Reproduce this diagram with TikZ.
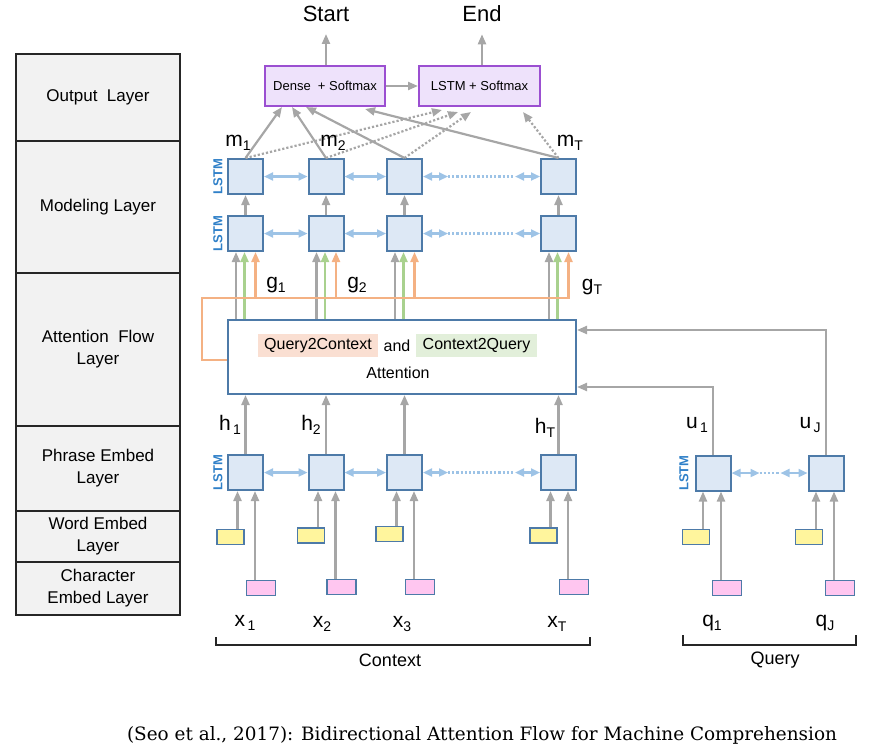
\documentclass[tikz,border=0pt]{standalone}
\usepackage{fontspec}
\setmainfont{Liberation Sans}
\newfontfamily\capfont{DejaVu Serif}
\usetikzlibrary{arrows.meta}
\definecolor{arrgray}{HTML}{A6A6A6}
\definecolor{boxfill}{HTML}{DDE8F5}
\definecolor{boxdraw}{HTML}{4D7AA8}
\definecolor{lblue}{HTML}{9DC3E6}
\definecolor{ylw}{HTML}{FFF59D}
\definecolor{pnk}{HTML}{FFC6F0}
\definecolor{purpfill}{HTML}{EEE2FB}
\definecolor{purpdraw}{HTML}{9B4FD1}
\definecolor{orng}{HTML}{F4B183}
\definecolor{grn}{HTML}{A9D18E}
\definecolor{peach}{HTML}{FADFD2}
\definecolor{lgreen}{HTML}{E2EFDA}
\definecolor{layerfill}{HTML}{F2F2F2}
\definecolor{lstmblue}{HTML}{2F80C8}
\newcommand{\setfsz}[1]{\fontsize{#1}{#1}\selectfont}
\newcommand{\sublab}[2]{{\setfsz{21}#1}{\setfsz{14}\raisebox{-4pt}{#2}}}
\begin{document}
\begin{tikzpicture}[x=1pt,y=-1pt,
  lstmbox/.style={draw=boxdraw, fill=boxfill, line width=2pt, minimum size=35pt, inner sep=0pt},
  ybox/.style={draw=boxdraw, fill=ylw, line width=1.8pt, minimum width=27pt, minimum height=15pt, inner sep=0pt},
  pbox/.style={draw=boxdraw, fill=pnk, line width=1.8pt, minimum width=29pt, minimum height=15pt, inner sep=0pt},
  purpbox/.style={draw=purpdraw, fill=purpfill, line width=2pt, minimum height=40pt, inner sep=0pt, font=\setfsz{13}},
  layer/.style={draw=black!85, fill=layerfill, line width=1.8pt, minimum width=164pt, inner sep=0pt, align=center, font=\fontsize{17}{22}\selectfont},
  tip/.style={-{Triangle[length=10pt,width=8pt]}},
  garrow/.style={draw=arrgray, line width=2.2pt, tip},
  gdot/.style={draw=arrgray, line width=2.2pt, dotted, tip},
  greenarrow/.style={draw=grn, line width=2.2pt, tip},
  orarrow/.style={draw=orng, line width=2.2pt, tip},
  barrow/.style={draw=lblue, line width=2.2pt, {Triangle[length=9pt,width=8pt]}-{Triangle[length=9pt,width=8pt]}},
  bdot/.style={draw=lblue, line width=2.2pt, dotted},
  lstmlab/.style={rotate=90, text=lstmblue, font=\bfseries\setfsz{13}, inner sep=0pt},
  lab/.style={inner sep=0pt},
  bracket/.style={draw=black!85, line width=1.6pt}
]
\useasboundingbox (0,0) rectangle (875,747);

% layer column
\node[layer, minimum height=87pt] (L1) at (98,97.5) {Output\ \ Layer};
\node[layer, minimum height=132pt] (L2) at (98,207) {Modeling Layer};
\node[layer, minimum height=153pt] (L3) at (98,349.5) {Attention\ \ Flow\\Layer};
\node[layer, minimum height=85pt] (L4) at (98,468.5) {Phrase Embed\\Layer};
\node[layer, minimum height=51pt] (L5) at (98,536.5) {Word Embed\\Layer};
\node[layer, minimum height=53pt] (L6) at (98,588.5) {Character\\Embed Layer};

% output layer
\node[purpbox, minimum width=120pt] (dense) at (325,86) {Dense\ \ + Softmax};
\node[purpbox, minimum width=121pt] (lsm) at (479.5,86) {LSTM + Softmax};
\node[lab, font=\setfsz{22}] (start) at (326,14) {Start};
\node[lab, font=\setfsz{22}] (end) at (482,14) {End};
\draw[garrow] (dense.north -| start) -- ([yshift=-12pt]start.south);
\draw[garrow] (lsm.north -| end) -- ([yshift=-12pt]end.south);
\draw[garrow] (dense) -- (lsm);

% attention box
\node[draw=boxdraw, fill=white, line width=2pt, minimum width=348pt, minimum height=74pt, inner sep=0pt] (att) at (402,357) {};
\node[fill=peach, minimum width=120pt, minimum height=23pt, inner sep=0pt, font=\setfsz{16}] (q2c) at (318,345.5) {Query2Context};
\node[lab, font=\setfsz{16}] (andt) at (397,346) {and};
\node[fill=lgreen, minimum width=121pt, minimum height=23pt, inner sep=0pt, font=\setfsz{16}] (c2q) at (476.5,345.5) {Context2Query};
\node[lab, font=\setfsz{16}] (attt) at (398,373) {Attention};

% context columns
\foreach \n/\cx/\yy/\py in {1/245.5/537/588, 2/326/535.5/587, 3/404.5/534/587, T/558.5/535.5/587} {
  \node[lstmbox] (mA\n) at (\cx,176.5) {};
  \node[lstmbox] (mB\n) at (\cx,233.5) {};
  \node[lstmbox] (ph\n) at (\cx,472.5) {};
  \node[ybox] (yw\n) at (\cx-15,\yy) {};
  \node[pbox] (pc\n) at (\cx+15.5,\py) {};
  \coordinate (ya\n) at ([xshift=7pt]yw\n.north);
  \coordinate (pa\n) at ([xshift=-6pt]pc\n.north);
  \draw[garrow] (ya\n) -- (ya\n |- ph\n.south);
  \draw[garrow] (pa\n) -- (pa\n |- ph\n.south);
  \draw[garrow] (ph\n.north) -- (ph\n.north |- att.south);
  \draw[garrow] (mB\n.north) -- (mA\n.south);
  \coordinate (gg\n) at ([xshift=-9.5pt]mB\n.south);
  \coordinate (gr\n) at ([xshift=-1pt]mB\n.south);
  \coordinate (og\n) at ([xshift=10pt]mB\n.south);
  \draw[garrow] (gg\n |- att.north) -- (gg\n);
  \draw[greenarrow] (gr\n |- att.north) -- (gr\n);
}

% orange feedback line
\coordinate (ocorner) at (202,298);
\draw[orarrow] ([yshift=-3pt]att.west) -| (ocorner) -- (ogT |- ocorner) -- (ogT);
\foreach \n in {1,2,3} { \draw[orarrow] (og\n |- ocorner) -- (og\n); }

% bidirectional links
\foreach \r in {mA,mB,ph} {
  \draw[barrow] (\r1) -- (\r2);
  \draw[barrow] (\r2) -- (\r3);
  \coordinate (\r dl) at ([xshift=25pt]\r3.east);
  \coordinate (\r dr) at ([xshift=-25pt]\r T.west);
  \draw[barrow] (\r3) -- (\r dl);
  \draw[bdot] (\r dl) -- (\r dr);
  \draw[barrow] (\r dr) -- (\r T);
}

% output connections
\draw[garrow] (mA1.north) -- ([xshift=-43pt]dense.south);
\draw[garrow] (mA2.north) -- ([xshift=-33pt]dense.south);
\draw[garrow] (mA3.north) -- ([xshift=-19pt]dense.south);
\draw[garrow] (mAT.north) -- ([xshift=40pt,yshift=-2pt]dense.south);
\draw[gdot] (mA1.north) -- ([xshift=-37.5pt,yshift=-3pt]lsm.south);
\draw[gdot] (mA2.north) -- ([xshift=-21.5pt,yshift=-5pt]lsm.south);
\draw[gdot] (mA3.north) -- ([xshift=-8.5pt,yshift=-5pt]lsm.south);
\draw[gdot] (mAT.north) -- ([xshift=43.5pt,yshift=-5pt]lsm.south);

% query columns
\foreach \n/\cx in {1/713, J/826} {
  \node[lstmbox] (qu\n) at (\cx,473) {};
  \node[ybox] (qy\n) at (\cx-17,537) {};
  \node[pbox] (qp\n) at (\cx+14,588) {};
  \coordinate (qya\n) at ([xshift=7pt]qy\n.north);
  \coordinate (qpa\n) at ([xshift=-6pt]qp\n.north);
  \draw[garrow] (qya\n) -- (qya\n |- qu\n.south);
  \draw[garrow] (qpa\n) -- (qpa\n |- qu\n.south);
}
\coordinate (qdl) at ([xshift=28pt]qu1.east);
\coordinate (qdr) at ([xshift=-27pt]quJ.west);
\draw[barrow] (qu1) -- (qdl);
\draw[bdot] (qdl) -- (qdr);
\draw[barrow] (qdr) -- (quJ);
\draw[garrow] (quJ.north) |- ([yshift=27pt]att.east);
\draw[garrow] (qu1.north) |- ([yshift=-30pt]att.east);

% LSTM labels
\node[lstmlab] (ll1) at (218,176.5) {LSTM};
\node[lstmlab] (ll2) at (218,233.5) {LSTM};
\node[lstmlab] (ll3) at (218,472.5) {LSTM};
\node[lstmlab] (ll4) at (684,473) {LSTM};

% symbol labels
\node[lab] (lm1) at (238,143) {\sublab{m}{1}};
\node[lab] (lm2) at (333,143) {\sublab{m}{2}};
\node[lab] (lmT) at (570,143) {\sublab{m}{T}};
\node[lab] (lg1) at (276,285) {\sublab{g}{1}};
\node[lab] (lg2) at (357,285) {\sublab{g}{2}};
\node[lab] (lgT) at (592,287) {\sublab{g}{T}};
\node[lab] (lh1) at (230,425) {\sublab{h}{\,1}};
\node[lab] (lh2) at (311,425) {\sublab{h}{2}};
\node[lab] (lhT) at (545,428) {\sublab{h}{T}};
\node[lab] (lu1) at (697,425) {\sublab{u}{\,1}};
\node[lab] (luJ) at (810,425) {\sublab{u}{\,J}};
\node[lab] (lx1) at (245,623) {\sublab{x}{\,1}};
\node[lab] (lx2) at (322,624) {\sublab{x}{2}};
\node[lab] (lx3) at (402,624) {\sublab{x}{3}};
\node[lab] (lxT) at (557,624) {\sublab{x}{T}};
\node[lab] (lq1) at (712,623) {\sublab{q}{1}};
\node[lab] (lqJ) at (825,623) {\sublab{q}{J}};

% brackets
\coordinate (cb1) at (216,637);
\coordinate (cb2) at (590,637);
\draw[bracket] (cb1) -- ++(0,8) -| (cb2);
\coordinate (qb1) at (683,635);
\coordinate (qb2) at (856,635);
\draw[bracket] (qb1) -- ++(0,10) -| (qb2);
\node[lab, font=\setfsz{18}] (ctx) at (390,660) {Context};
\node[lab, font=\setfsz{18}] (qry) at (775,660) {Query};

% caption
\node[lab, font=\capfont\setfsz{18.4}] (cap) at (482,735) {(Seo et al., 2017): Bidirectional Attention Flow for Machine Comprehension};
\end{tikzpicture}
\end{document}
